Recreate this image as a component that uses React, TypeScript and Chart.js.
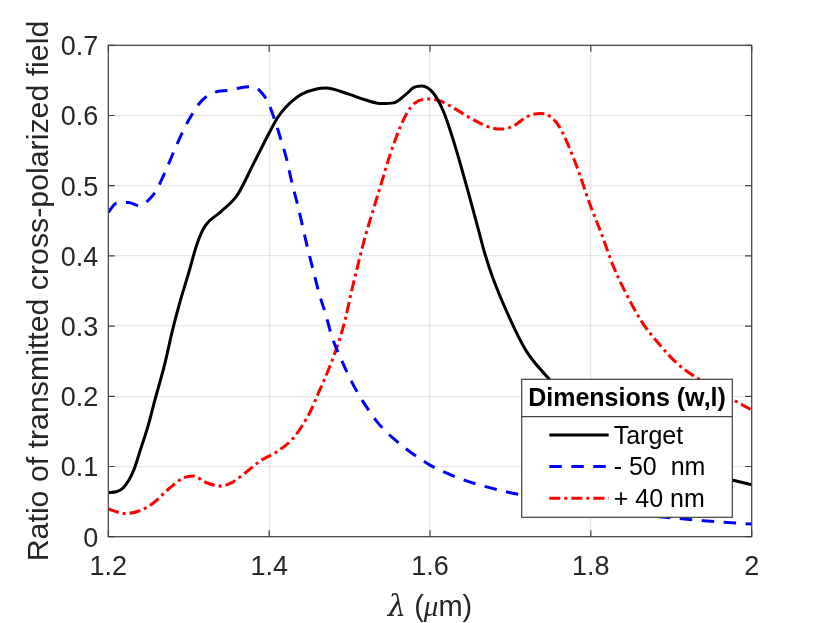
import React, { useEffect, useRef } from 'react';
import { Chart, registerables } from 'chart.js';

Chart.register(...registerables);

const SANS = '"Liberation Sans", Arial, sans-serif';
const TEXT_COLOR = '#262626';
const FRAME_COLOR = '#404040';

const xTickValues = [1.2, 1.4, 1.6, 1.8, 2];
const yTickValues = [0, 0.1, 0.2, 0.3, 0.4, 0.5, 0.6, 0.7];

const seriesNames = ['Target', '- 50  nm', '+ 40 nm'];
const legendTitle = 'Dimensions (w,l)';

const targetX = [1.2, 1.21, 1.219, 1.231, 1.24, 1.25, 1.258, 1.27, 1.28, 1.29, 1.3, 1.31, 1.32, 1.34, 1.36, 1.38, 1.4, 1.41, 1.42, 1.43, 1.44, 1.46, 1.47, 1.5, 1.52, 1.54, 1.555, 1.57, 1.58, 1.59, 1.604, 1.617, 1.627, 1.6375, 1.648, 1.66, 1.6685, 1.679, 1.7, 1.72, 1.747, 1.8, 1.85, 1.9, 1.95, 2];
const targetY = [0.063, 0.064, 0.07, 0.093, 0.124, 0.16, 0.195, 0.245, 0.295, 0.338, 0.376, 0.416, 0.442, 0.463, 0.486, 0.53, 0.575, 0.596, 0.611, 0.622, 0.63, 0.638, 0.639, 0.63, 0.622, 0.617, 0.618, 0.63, 0.64, 0.642, 0.632, 0.605, 0.572, 0.532, 0.489, 0.438, 0.402, 0.366, 0.309, 0.264, 0.226, 0.16, 0.125, 0.103, 0.088, 0.074];

const minusX = [1.2, 1.21, 1.225, 1.2385, 1.252, 1.26, 1.2727, 1.285, 1.2955, 1.306, 1.3116, 1.322, 1.335, 1.351, 1.366, 1.38, 1.391, 1.399, 1.405, 1.4135, 1.422, 1.428, 1.436, 1.447, 1.4547, 1.462, 1.4705, 1.478, 1.49, 1.5025, 1.517, 1.534, 1.5545, 1.6, 1.629, 1.658, 1.7, 1.7235, 1.8, 1.85, 1.886, 1.94, 2];
const minusY = [0.462, 0.475, 0.476, 0.4716, 0.482, 0.494, 0.525, 0.558, 0.584, 0.605, 0.615, 0.627, 0.634, 0.636, 0.64, 0.641, 0.632, 0.618, 0.6, 0.57, 0.5366, 0.5057, 0.47, 0.415, 0.38, 0.347, 0.316, 0.285, 0.2517, 0.221, 0.192, 0.164, 0.14, 0.102, 0.0865, 0.075, 0.0627, 0.058, 0.042, 0.033, 0.0285, 0.0228, 0.018];

const plusX = [1.2, 1.2207, 1.239, 1.256, 1.276, 1.293, 1.306, 1.32, 1.339, 1.3535, 1.372, 1.389, 1.4095, 1.428, 1.4405, 1.451, 1.4612, 1.4736, 1.486, 1.4944, 1.5027, 1.511, 1.5193, 1.5255, 1.538, 1.5503, 1.5628, 1.571, 1.5815, 1.598, 1.6126, 1.6333, 1.656, 1.675, 1.6893, 1.7037, 1.72, 1.737, 1.749, 1.7597, 1.77, 1.7826, 1.8, 1.8137, 1.828, 1.8427, 1.8634, 1.884, 1.907, 1.934, 1.9775, 2];
const plusY = [0.0395, 0.033, 0.037, 0.048, 0.069, 0.0836, 0.0865, 0.078, 0.0722, 0.077, 0.0926, 0.108, 0.121, 0.138, 0.157, 0.178, 0.2045, 0.2375, 0.2757, 0.3087, 0.351, 0.39, 0.427, 0.451, 0.498, 0.544, 0.583, 0.603, 0.618, 0.6235, 0.6207, 0.608, 0.5926, 0.583, 0.5807, 0.585, 0.598, 0.603, 0.599, 0.586, 0.5627, 0.527, 0.47, 0.43, 0.385, 0.349, 0.306, 0.2757, 0.247, 0.2245, 0.1947, 0.1805];

const toPoints = (xs: number[], ys: number[]) => xs.map((x, i) => ({ x, y: ys[i] }));

const lineColors = ['#000000', '#0000ff', '#ff0000'];
const lineDashes = [[], [12.5, 9.5], [11, 4, 3, 4]];

// inward ticks, the box round the axes and the x title with its italic letters
const framePlugin = {
  id: 'frame',
  afterDatasetsDraw(chart: any) {
    const { ctx, chartArea: a, scales } = chart;
    ctx.save();
    ctx.strokeStyle = FRAME_COLOR;
    ctx.lineWidth = 1.2;
    ctx.setLineDash([]);
    ctx.strokeRect(a.left, a.top, a.right - a.left, a.bottom - a.top);
    ctx.beginPath();
    xTickValues.forEach(v => {
      const x = scales.x.getPixelForValue(v);
      ctx.moveTo(x, a.bottom);
      ctx.lineTo(x, a.bottom - 6.5);
      ctx.moveTo(x, a.top);
      ctx.lineTo(x, a.top + 6.5);
    });
    yTickValues.forEach(v => {
      const y = scales.y.getPixelForValue(v);
      ctx.moveTo(a.left, y);
      ctx.lineTo(a.left + 6.5, y);
      ctx.moveTo(a.right, y);
      ctx.lineTo(a.right - 6.5, y);
    });
    ctx.stroke();

    const parts = [
      { text: '\u03bb', font: 'italic 29px "DejaVu Serif", serif' },
      { text: ' (', font: `29px ${SANS}` },
      { text: '\u03bc', font: 'italic 29px "Liberation Serif", serif' },
      { text: 'm)', font: `29px ${SANS}` },
    ];
    ctx.fillStyle = TEXT_COLOR;
    ctx.textBaseline = 'alphabetic';
    ctx.textAlign = 'left';
    const widths = parts.map(p => {
      ctx.font = p.font;
      return ctx.measureText(p.text).width;
    });
    let x = 430 - widths.reduce((s, w) => s + w, 0) / 2;
    parts.forEach((p, i) => {
      ctx.font = p.font;
      ctx.fillText(p.text, x, 616);
      x += widths[i];
    });
    ctx.restore();
  },
};

const legendPlugin = {
  id: 'boxLegend',
  afterDatasetsDraw(chart: any) {
    const { ctx } = chart;
    const left = 521.7;
    const top = 379.3;
    const w = 210.6;
    const h = 138;
    ctx.save();
    ctx.fillStyle = '#ffffff';
    ctx.fillRect(left, top, w, h);
    ctx.strokeStyle = FRAME_COLOR;
    ctx.lineWidth = 1.2;
    ctx.strokeRect(left, top, w, h);
    ctx.beginPath();
    ctx.moveTo(left, top + 37.4);
    ctx.lineTo(left + w, top + 37.4);
    ctx.stroke();

    ctx.fillStyle = '#000000';
    ctx.font = `bold 25px ${SANS}`;
    ctx.textAlign = 'center';
    ctx.textBaseline = 'middle';
    ctx.fillText(legendTitle, left + w / 2, top + 20);

    ctx.font = `25px ${SANS}`;
    ctx.textAlign = 'left';
    seriesNames.forEach((name, i) => {
      const y = top + 55.7 + i * 31.6;
      ctx.beginPath();
      ctx.strokeStyle = lineColors[i];
      ctx.lineWidth = 3;
      ctx.setLineDash(lineDashes[i]);
      ctx.moveTo(left + 27.6, y);
      ctx.lineTo(left + 87, y);
      ctx.stroke();
      ctx.fillStyle = '#000000';
      ctx.fillText(name, left + 92, y + 2);
    });
    ctx.restore();
  },
};

export default function App() {
  const canvasRef = useRef<HTMLCanvasElement>(null);

  useEffect(() => {
    if (!canvasRef.current) return;
    const chart = new Chart(canvasRef.current, {
      type: 'line',
      data: {
        datasets: [
          { label: seriesNames[0], data: toPoints(targetX, targetY), borderColor: lineColors[0], borderDash: lineDashes[0] },
          { label: seriesNames[1], data: toPoints(minusX, minusY), borderColor: lineColors[1], borderDash: lineDashes[1] },
          { label: seriesNames[2], data: toPoints(plusX, plusY), borderColor: lineColors[2], borderDash: lineDashes[2] },
        ],
      },
      options: {
        responsive: false,
        animation: false,
        layout: { padding: { top: 45.3, right: 78.3, left: 0, bottom: 0 } },
        elements: {
          point: { radius: 0 },
          line: { borderWidth: 3, cubicInterpolationMode: 'monotone', fill: false, borderCapStyle: 'butt' },
        },
        plugins: { legend: { display: false }, tooltip: { enabled: false } },
        scales: {
          x: {
            type: 'linear',
            min: 1.2,
            max: 2,
            afterFit: (s: any) => { s.height = 623 - 536.7; },
            afterBuildTicks: (s: any) => { s.ticks = xTickValues.map(value => ({ value })); },
            grid: { color: '#e6e6e6', lineWidth: 1.3, drawTicks: false },
            border: { display: false },
            ticks: {
              color: TEXT_COLOR,
              font: { family: SANS, size: 27 },
              padding: 15,
              maxRotation: 0,
              callback: (v: any) => String(v),
            },
          },
          y: {
            type: 'linear',
            min: 0,
            max: 0.7,
            afterFit: (s: any) => { s.width = 108.3; },
            afterBuildTicks: (s: any) => { s.ticks = yTickValues.map(value => ({ value })); },
            grid: { color: '#e6e6e6', lineWidth: 1.3, drawTicks: false },
            border: { display: false },
            title: {
              display: true,
              text: 'Ratio of transmitted cross-polarized field',
              color: TEXT_COLOR,
              font: { family: SANS, size: 30.3 },
              padding: { top: 21, bottom: 0 },
            },
            ticks: {
              color: TEXT_COLOR,
              font: { family: SANS, size: 27 },
              padding: 10,
              labelOffset: 2.5,
              callback: (v: any) => String(v),
            },
          },
        },
      },
      plugins: [framePlugin, legendPlugin],
    } as any);
    return () => chart.destroy();
  }, []);

  return (
    <div style={{ position: 'fixed', left: 0, top: 0, width: 830, height: 623, background: '#fff' }}>
      <canvas ref={canvasRef} width={830} height={623} style={{ display: 'block' }} />
    </div>
  );
}
